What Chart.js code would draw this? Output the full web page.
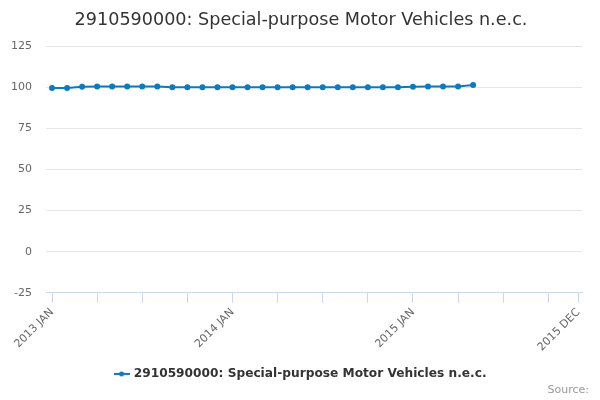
<!DOCTYPE html>
<html>
<head>
    <title>2910590000: Special-purpose Motor Vehicles n.e.c.</title>
    <script src="https://cdn.jsdelivr.net/npm/chart.js"></script>
    <style>
        body { margin: 0; background: white; }
        #wrap { width: 600px; height: 400px; }
    </style>
</head>
<body>
<div id="wrap"><canvas id="chart" width="600" height="400"></canvas></div>
<script>
// Meses del eje x (2013 JAN .. 2015 DEC)
const months = [
    '2013 JAN','2013 FEB','2013 MAR','2013 APR','2013 MAY','2013 JUN','2013 JUL','2013 AUG','2013 SEP','2013 OCT','2013 NOV','2013 DEC',
    '2014 JAN','2014 FEB','2014 MAR','2014 APR','2014 MAY','2014 JUN','2014 JUL','2014 AUG','2014 SEP','2014 OCT','2014 NOV','2014 DEC',
    '2015 JAN','2015 FEB','2015 MAR','2015 APR','2015 MAY','2015 JUN','2015 JUL','2015 AUG','2015 SEP','2015 OCT','2015 NOV','2015 DEC'
];
// Valores del índice, uno por mes desde 2013 JAN
const values = [
    99.6, 99.6, 100.3, 100.4, 100.4, 100.4, 100.4, 100.4,
    100.0, 100.0, 100.0, 100.0, 100.0, 100.0, 100.0, 100.0,
    100.0, 100.0, 100.0, 100.0, 100.0, 100.0, 100.0, 100.0,
    100.3, 100.4, 100.4, 100.4, 101.4
];
const tickPositions = [0, 3, 6, 9, 12, 15, 18, 21, 24, 27, 30, 33, 35];
const labeledTicks = [0, 12, 24, 35];
const yTicks = [-25, 0, 25, 50, 75, 100, 125];

const seriesName = '2910590000: Special-purpose Motor Vehicles n.e.c.';
const lineColor = '#0b7bc1';
const font = "'DejaVu Sans', sans-serif";

// simbolo de leyenda: linea con punto
const sym = document.createElement('canvas');
sym.width = 16; sym.height = 6;
const sctx = sym.getContext('2d');
sctx.strokeStyle = lineColor; sctx.lineWidth = 2;
sctx.beginPath(); sctx.moveTo(0, 3); sctx.lineTo(16, 3); sctx.stroke();
sctx.fillStyle = lineColor;
sctx.beginPath(); sctx.arc(8, 3, 2.5, 0, Math.PI * 2); sctx.fill();

const sourcePlugin = {
    id: 'source',
    afterDraw(chart) {
        const ctx = chart.ctx;
        ctx.save();
        ctx.font = "11px " + font;
        ctx.fillStyle = '#999';
        ctx.textAlign = 'right';
        ctx.textBaseline = 'middle';
        ctx.fillText('Source:', 589, 390);
        ctx.restore();
    }
};

new Chart(document.getElementById('chart'), {
    type: 'line',
    data: {
        datasets: [{
            label: seriesName,
            data: values.map((v, i) => ({x: i, y: v})),
            borderColor: lineColor,
            backgroundColor: lineColor,
            borderWidth: 2,
            pointRadius: 2,
            pointHoverRadius: 3,
            pointStyle: 'circle',
            tension: 0
        }]
    },
    options: {
        responsive: false,
        animation: false,
        layout: { padding: { left: 2, right: 0, top: 0, bottom: 10 } },
        plugins: {
            title: {
                display: true,
                text: seriesName,
                color: '#333',
                font: { family: font, size: 17.6, weight: 'normal' },
                padding: { top: 10, bottom: 15 }
            },
            legend: {
                position: 'bottom',
                labels: {
                    usePointStyle: true,
                    generateLabels: () => [{
                        text: seriesName,
                        pointStyle: sym,
                        fontColor: '#333',
                        lineWidth: 0,
                        datasetIndex: 0
                    }],
                    color: '#333',
                    font: { family: font, size: 12.2, weight: 'bold' },
                    padding: 8
                }
            },
            tooltip: { enabled: false }
        },
        scales: {
            x: {
                type: 'linear',
                min: -0.4,
                max: 35.24,
                afterBuildTicks: scale => { scale.ticks = tickPositions.map(v => ({value: v})); },
                afterFit: scale => { scale.height += 3; },
                ticks: {
                    autoSkip: false,
                    minRotation: 45,
                    maxRotation: 45,
                    color: '#666',
                    font: { family: font, size: 11 },
                    callback: value => labeledTicks.includes(value) ? months[value] : ''
                },
                grid: { drawOnChartArea: false, drawTicks: true, tickLength: 10, color: '#ccd6eb' },
                border: { color: '#ccd6eb' }
            },
            y: {
                min: -25,
                max: 125,
                afterBuildTicks: scale => { scale.ticks = yTicks.map(v => ({value: v})); },
                afterFit: scale => { scale.width = 44; },
                ticks: {
                    color: '#666',
                    font: { family: font, size: 11 },
                    padding: 14
                },
                grid: { color: '#e6e6e6', drawTicks: false },
                border: { display: false }
            },
            // margen derecho vacio
            yRight: {
                position: 'right',
                min: -25,
                max: 125,
                afterFit: scale => { scale.width = 18; },
                ticks: { display: false },
                grid: { drawOnChartArea: false, drawTicks: false },
                border: { display: false }
            }
        }
    },
    plugins: [sourcePlugin]
});
</script>
</body>
</html>
